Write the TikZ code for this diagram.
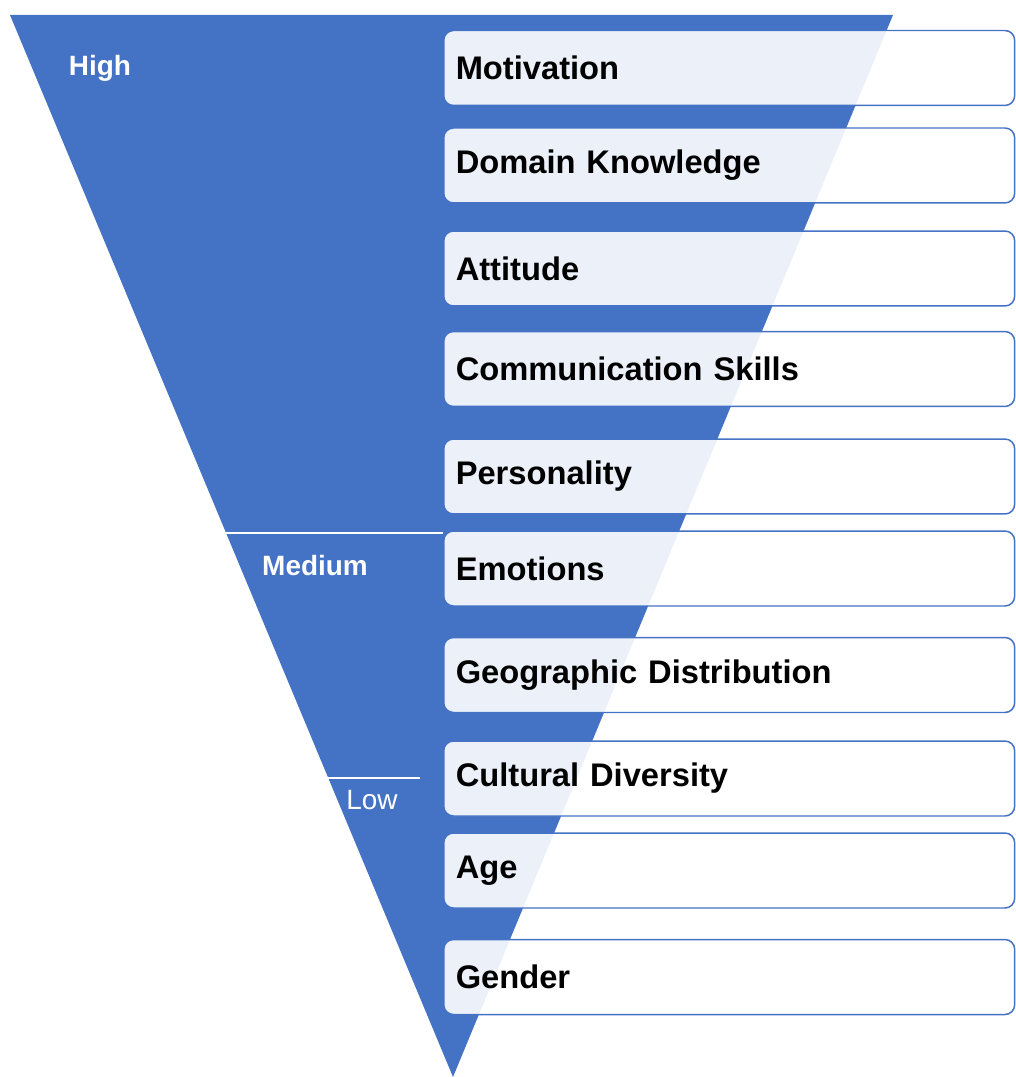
\documentclass[tikz,border=0pt]{standalone}
\usepackage{fontspec}
\setmainfont{Liberation Sans}
\usepackage{xcolor}
\usetikzlibrary{positioning}
\definecolor{funnel}{HTML}{4472C4}

\begin{document}
\begin{tikzpicture} [x=0.02cm, y=-0.02cm,
					    factor/.style = {draw=funnel,
					    line width = 0.85pt,
					    rounded corners = 5.5pt,
					    fill=white,
					    fill opacity = 0.9,
					    text opacity = 1,
					    anchor = west,
					    minimum height = 1.5cm,
					    inner xsep = 0.24cm,
					    text width = 10.94cm,
					    align = left,
					    font = \bfseries\fontsize{18.6}{22}\selectfont},
					    level/.style = {text=white,
					    font = \fontsize{15.9}{19}\selectfont},
					    split/.style = {draw=white, line width = 0.6pt}]
					
					\useasboundingbox (0,0) rectangle (1015,1077);
					
					% funnel
					\coordinate (TL) at (10,15);
					\coordinate (TR) at (893,15);
					\coordinate (Tip) at (453,1077);
					\fill[funnel] (TL) -- (TR) -- (Tip) -- cycle;
					
					% level borders
					\coordinate (midL) at (226,533);
					\coordinate (midR) at (443,533);
					\coordinate (lowL) at (328,778);
					\coordinate (lowR) at (420,778);
					\draw[split] (midL) -- (midR);
					\draw[split] (lowL) -- (lowR);
					
					\node (high) at (100,68) [level] {\bfseries High};
					\node (medium) at (315,566) [level] {\bfseries Medium};
					\node (low) at (372,800) [level] {Low};
					
					% factors
					\node (mot) at (443,68) [factor] {Motivation};
					\node (dom) at (443,165.5) [factor] {Domain Knowledge};
					\node (att) at (443,268.5) [factor] {Attitude};
					\node (com) at (443,369) [factor] {Communication Skills};
					\node (per) at (443,476.5) [factor] {Personality};
					\node (emo) at (443,568.5) [factor] {Emotions};
					\node (geo) at (443,675) [factor] {Geographic Distribution};
					\node (cul) at (443,778.5) [factor] {Cultural Diversity};
					\node (age) at (443,870.5) [factor] {Age};
					\node (gen) at (443,977) [factor] {Gender};
				\end{tikzpicture}
\end{document}
